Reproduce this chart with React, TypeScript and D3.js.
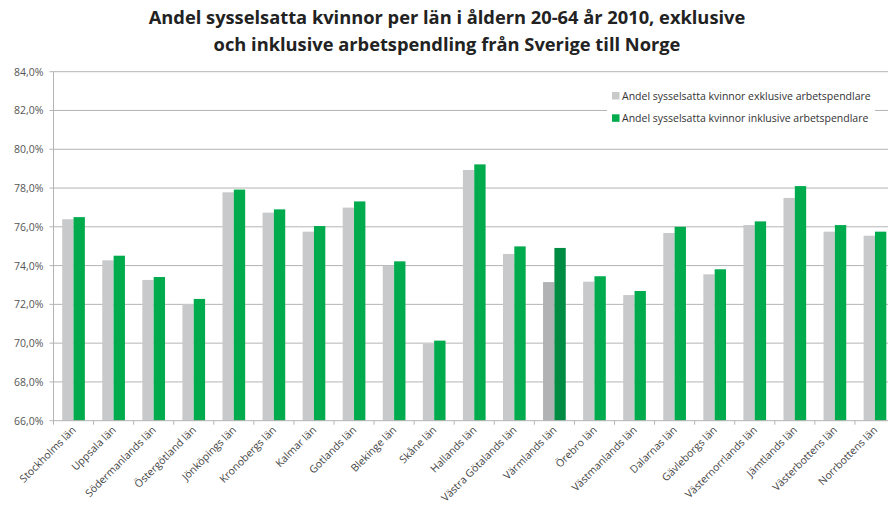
import React, { useRef, useEffect } from "react";
import * as d3 from "d3";

const W = 888;
const H = 506;

const counties = [
  "Stockholms län", "Uppsala län", "Södermanlands län", "Östergötland län",
  "Jönköpings län", "Kronobergs län", "Kalmar län", "Gotlands län",
  "Blekinge län", "Skåne län", "Hallands län", "Västra Götalands län",
  "Värmlands län", "Örebro län", "Västmanlands län", "Dalarnas län",
  "Gävleborgs län", "Västernorrlands län", "Jämtlands län",
  "Västerbottens län", "Norrbottens län",
];
const exclusive = [
  76.39, 74.27, 73.26, 72.02, 77.78, 76.73, 75.75, 76.99, 73.99, 69.96, 78.93,
  74.6, 73.15, 73.17, 72.48, 75.68, 73.55, 76.09, 77.49, 75.75, 75.54,
];
const inclusive = [
  76.5, 74.51, 73.41, 72.28, 77.92, 76.9, 76.04, 77.31, 74.22, 70.13, 79.22,
  74.99, 74.91, 73.45, 72.69, 76.0, 73.81, 76.28, 78.1, 76.09, 75.75,
];
const yTicks = [66, 68, 70, 72, 74, 76, 78, 80, 82, 84];
const seriesNames = [
  "Andel sysselsatta kvinnor exklusive arbetspendlare",
  "Andel sysselsatta kvinnor inklusive arbetspendlare",
];
const highlight = "Värmlands län";

const FONT = "'Open Sans', 'DejaVu Sans', sans-serif";

const App = () => {
  const ref = useRef<SVGSVGElement>(null);

  useEffect(() => {
    if (!ref.current) return;
    const svg = d3.select(ref.current);
    svg.selectAll("*").remove();

    const left = 53.5;
    const right = 895;
    const top = 71.7;
    const bottom = 420.7;

    const x = d3.scaleBand().domain(counties).range([left, right]);
    const y = d3.scaleLinear().domain([66, 84]).range([bottom, top]);
    const bw = x.bandwidth() * 0.283;
    const off = (x.bandwidth() - 2 * bw) / 2;

    // title
    const title = svg
      .append("text")
      .attr("text-anchor", "middle")
      .attr("font-family", FONT)
      .attr("font-weight", "bold")
      .attr("font-size", 18.3)
      .attr("fill", "#222");
    title.append("tspan").attr("x", 447).attr("y", 24).text("Andel sysselsatta kvinnor per län i åldern 20-64 år 2010, exklusive");
    title.append("tspan").attr("x", 447).attr("y", 51).text("och inklusive arbetspendling från Sverige till Norge");

    // gridlines
    svg
      .append("g")
      .selectAll("line")
      .data(yTicks.slice(1))
      .join("line")
      .attr("x1", left)
      .attr("x2", W)
      .attr("y1", (d) => y(d))
      .attr("y2", (d) => y(d))
      .attr("stroke", "#b4b4b4")
      .attr("stroke-width", 1);

    // y labels + ticks
    const yg = svg.append("g");
    yg.selectAll("line")
      .data(yTicks)
      .join("line")
      .attr("x1", left - 4)
      .attr("x2", left)
      .attr("y1", (d) => y(d))
      .attr("y2", (d) => y(d))
      .attr("stroke", "#b4b4b4");
    yg.selectAll("text")
      .data(yTicks)
      .join("text")
      .attr("x", left - 10)
      .attr("y", (d) => y(d) + 4)
      .attr("text-anchor", "end")
      .attr("font-family", FONT)
      .attr("font-size", 10.5)
      .attr("fill", "#555")
      .text((d) => d3.format(".1f")(d).replace(".", ",") + "%");

    // bars
    const g = svg.append("g");
    counties.forEach((c, i) => {
      const hl = c === highlight;
      g.append("rect")
        .attr("x", x(c)! + off)
        .attr("y", y(exclusive[i]))
        .attr("width", bw)
        .attr("height", bottom - y(exclusive[i]))
        .attr("fill", hl ? "#b1b2b4" : "#c8c9ca");
      g.append("rect")
        .attr("x", x(c)! + off + bw)
        .attr("y", y(inclusive[i]))
        .attr("width", bw)
        .attr("height", bottom - y(inclusive[i]))
        .attr("fill", hl ? "#008b43" : "#00ab4e");
    });

    // axes lines
    svg.append("line")
      .attr("x1", left).attr("x2", left).attr("y1", top).attr("y2", bottom)
      .attr("stroke", "#b4b4b4");
    svg.append("line")
      .attr("x1", left).attr("x2", W).attr("y1", bottom).attr("y2", bottom)
      .attr("stroke", "#b4b4b4");
    svg.append("g")
      .selectAll("line")
      .data(d3.range(counties.length + 1))
      .join("line")
      .attr("x1", (i) => left + i * x.step())
      .attr("x2", (i) => left + i * x.step())
      .attr("y1", bottom)
      .attr("y2", bottom + 4)
      .attr("stroke", "#b4b4b4");

    // x labels
    svg.append("g")
      .selectAll("text")
      .data(counties)
      .join("text")
      .attr("transform", (d) => `translate(${x(d)! + x.bandwidth() / 2 + 3},${bottom + 10}) rotate(-45)`)
      .attr("text-anchor", "end")
      .attr("font-family", FONT)
      .attr("font-size", 10.5)
      .attr("fill", "#444")
      .text((d) => d);

    // legend
    const lg = svg.append("g");
    lg.append("rect")
      .attr("x", 607).attr("y", 86).attr("width", 268).attr("height", 46)
      .attr("fill", "#fff");
    seriesNames.forEach((s, i) => {
      const cy = 96 + i * 22.3;
      lg.append("rect")
        .attr("x", 612).attr("y", cy - 4).attr("width", 7.5).attr("height", 7.5)
        .attr("fill", i === 0 ? "#c8c9ca" : "#00ab4e");
      lg.append("text")
        .attr("x", 622).attr("y", cy + 4)
        .attr("font-family", FONT)
        .attr("font-size", 10.5)
        .attr("fill", "#333")
        .text(s);
    });
  }, []);

  return <svg ref={ref} width={W} height={H} style={{ display: "block", position: "absolute", left: 0, top: 0, background: "#fff" }} />;
};

export default App;
